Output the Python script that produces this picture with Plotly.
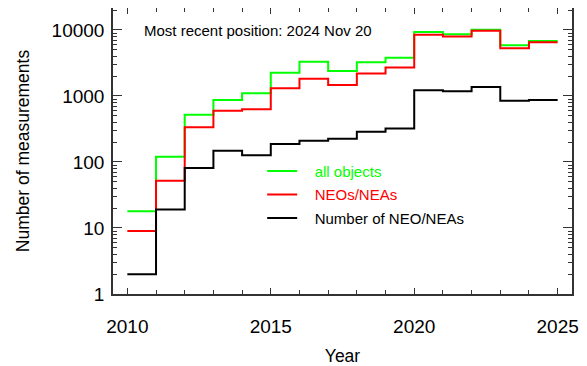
import plotly.graph_objects as go

years = list(range(2010, 2025))
all_objects = [18, 120, 520, 870, 1100, 2250, 3300, 2400, 3250, 3800, 9300, 8600, 10100, 5850, 6800]
neos = [9, 52, 335, 595, 630, 1310, 1830, 1470, 2200, 2700, 8500, 8000, 9750, 5300, 6500]
n_objects = [2, 19, 81, 148, 127, 187, 209, 224, 286, 321, 1220, 1180, 1370, 850, 870]

series = [
    ("all objects", all_objects, "#00ff00"),
    ("NEOs/NEAs", neos, "#ff0000"),
    ("Number of NEO/NEAs", n_objects, "#000000"),
]

x_edges = years + [years[-1] + 1]
font_family = "Liberation Sans, Arial, Helvetica, sans-serif"
minor_y = [k * 10 ** d for d in range(0, 5) for k in range(2, 10)]
pad = "\u00a0\u00a0\u00a0"

fig = go.Figure()
for i, (name, vals, col) in enumerate(series):
    fig.add_trace(go.Scatter(
        x=x_edges, y=vals + [vals[-1]],
        mode="lines", line=dict(color=col, width=2, shape="hv"),
        name=f"<span style='color:{col}'>{pad}{name}</span>",
        legendgroup=f"g{i}",
    ))

fig.add_annotation(
    text="Most recent position: 2024 Nov 20",
    xref="paper", yref="paper", x=0.064, y=0.923,
    xanchor="left", yanchor="middle", showarrow=False,
    font=dict(size=15, color="black", family=font_family),
)

fig.update_layout(
    width=579, height=358,
    margin=dict(l=105, r=15, t=0, b=72, autoexpand=False),
    paper_bgcolor="white", plot_bgcolor="white",
    font=dict(family=font_family, color="black", size=19),
    legend=dict(
        x=0.325, y=0.487, xanchor="left", yanchor="top",
        bgcolor="rgba(0,0,0,0)", font=dict(size=15),
        tracegroupgap=1, itemwidth=30,
    ),
    xaxis=dict(
        range=[2009.5, 2025.5], automargin=False,
        tickvals=[2010, 2015, 2020, 2025],
        ticks="inside", ticklen=6, tickwidth=1, tickcolor="#333",
        minor=dict(dtick=1, ticks="inside", ticklen=4, tickcolor="#333", showgrid=False),
        showline=True, linecolor="#333", linewidth=1.5, mirror="ticks",
        showgrid=False, zeroline=False,
        ticklabelstandoff=14,
        title=dict(text="Year", font=dict(size=17.5), standoff=21),
    ),
    yaxis=dict(
        type="log", range=[0, 4.333], automargin=False,
        tickvals=[1, 10, 100, 1000, 10000],
        ticktext=["1", "10", "100", "1000", "10000"],
        ticks="inside", ticklen=9, tickwidth=1, tickcolor="#333",
        minor=dict(tickmode="array", tickvals=minor_y, ticks="inside", ticklen=4,
                   tickcolor="#333", showgrid=False),
        showline=True, linecolor="#333", linewidth=1.5, mirror="ticks",
        showgrid=False, zeroline=False,
        ticklabelstandoff=3,
        title=dict(text="Number of measurements", font=dict(size=17.5), standoff=17),
    ),
)

fig.write_html("out.html")
